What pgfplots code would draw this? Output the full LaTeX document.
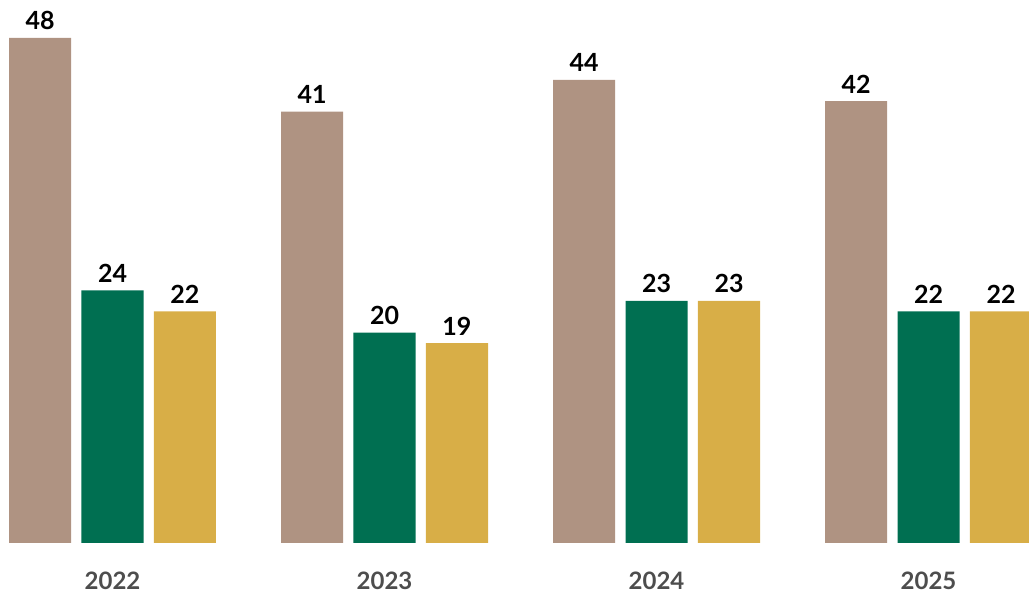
\documentclass[border=0pt]{standalone}
\usepackage{fontspec}
\setmainfont{Lato}
\usepackage{pgfplots}
\pgfplotsset{compat=1.18}
\definecolor{cbrown}{HTML}{AF9382}
\definecolor{cgreen}{HTML}{006F51}
\definecolor{cyellow}{HTML}{D8AE47}
\definecolor{cgray}{HTML}{4D4D4D}
\begin{document}
\begin{tikzpicture}
\begin{axis}[
  at={(0pt,51pt)}, anchor=south west,
  scale only axis, width=1029pt, height=543pt,
  xmin=-0.4136, xmax=3.3695, ymin=0, ymax=51.6,
  ybar, bar width=0.228,
  clip=false,
  axis line style={draw=none},
  major tick length=0pt,
  ytick=\empty,
  xtick={0,1,2,3},
  xticklabels={2022,2023,2024,2025},
  xticklabel style={anchor=base, yshift=-47pt, text=cgray, font=\fontsize{24}{28}\selectfont\bfseries},
  /pgf/number format/assume math mode=true,
  nodes near coords,
  every node near coord/.append style={anchor=base, yshift=8pt, text=black, font=\fontsize{25}{30}\selectfont\bfseries},
]
\addplot[fill=cbrown, draw=none, bar shift=-0.2665] coordinates {(0,48) (1,41) (2,44) (3,42)};
\addplot[fill=cgreen, draw=none, bar shift=0] coordinates {(0,24) (1,20) (2,23) (3,22)};
\addplot[fill=cyellow, draw=none, bar shift=0.2665] coordinates {(0,22) (1,19) (2,23) (3,22)};
\end{axis}
\pgfresetboundingbox
\path (0,0) rectangle (1029pt,594pt);
\end{tikzpicture}
\end{document}
